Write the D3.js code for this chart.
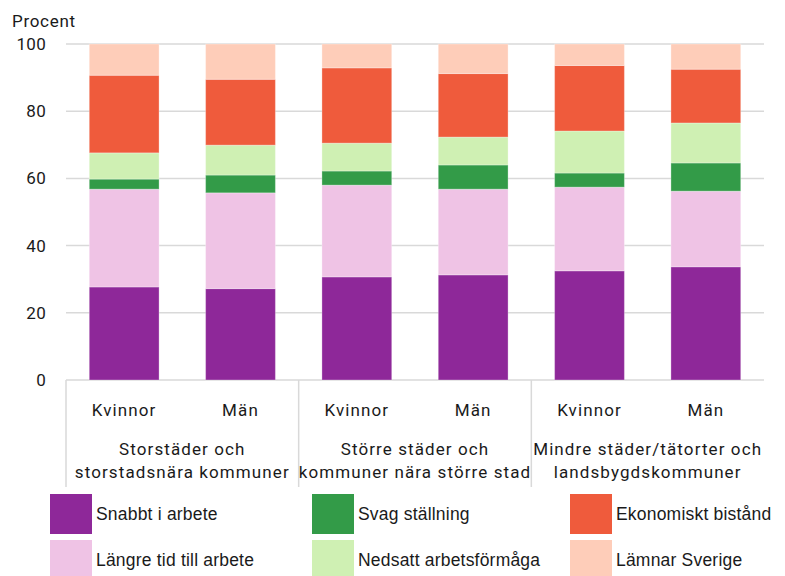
<!DOCTYPE html>
<html><head><meta charset="utf-8">
<script src="https://cdn.jsdelivr.net/npm/d3@7"></script>
<style>body{margin:0;background:#fff}svg{display:block}</style>
</head><body>
<svg id="c" width="785" height="576"></svg>
<script>
const groups = [["Storstäder och","storstadsnära kommuner"],["Större städer och","kommuner nära större stad"],["Mindre städer/tätorter och","landsbygdskommuner"]];
const genders = ["Kvinnor","Män"];
const seriesNames = ["Snabbt i arbete","Längre tid till arbete","Svag ställning","Nedsatt arbetsförmåga","Ekonomiskt bistånd","Lämnar Sverige"];
const colors = ["#8e2899","#efc3e5","#339b48","#cff0b3","#ef5b3c","#fecdb9"];
// values per bar, order: Stor K, Stor M, Större K, Större M, Mindre K, Mindre M
const snabbt   = [27.7, 27.2, 30.7, 31.3, 32.5, 33.7];
const langre   = [29.1, 28.5, 27.3, 25.5, 24.9, 22.5];
const svag     = [3.0, 5.3, 4.2, 7.2, 4.2, 8.4];
const nedsatt  = [7.8, 8.9, 8.3, 8.3, 12.5, 11.9];
const ekonom   = [23.1, 19.6, 22.4, 18.9, 19.5, 16.0];
const lamnar   = [9.3, 10.5, 7.1, 8.8, 6.4, 7.5];
const yTicks = [0,20,40,60,80,100];

const seriesVals = [snabbt, langre, svag, nedsatt, ekonom, lamnar];
const bars = d3.range(6).map(i => {
  const o = {id:i};
  seriesNames.forEach((s,k)=> o[s]=seriesVals[k][i]);
  return o;
});
const stack = d3.stack().keys(seriesNames)(bars);

const svg = d3.select("#c");
const L=66, R=764, T=44, B=380;
const x = d3.scaleBand().domain(d3.range(6)).range([L,R]).paddingInner(0.4).paddingOuter(0.2);
const y = d3.scaleLinear().domain([0,100]).range([B,T]);
const axisFont = "Roboto, 'Noto Sans', sans-serif";
const txt = "#1a1a1a";

// gridlines
svg.append("g").selectAll("line").data(yTicks).join("line")
  .attr("x1",L).attr("x2",R).attr("y1",d=>y(d)).attr("y2",d=>y(d))
  .attr("stroke","#d9d9d9").attr("stroke-width",1.5);

// y labels
svg.append("g").selectAll("text").data(yTicks).join("text")
  .attr("x",46).attr("y",d=>y(d)+6).attr("text-anchor","end")
  .attr("font-family",axisFont).attr("font-size",17).attr("letter-spacing",0.3).attr("fill",txt).text(d=>d);
svg.append("text").attr("x",12).attr("y",27).attr("font-family",axisFont)
  .attr("font-size",17).attr("letter-spacing",0.7).attr("fill",txt).text("Procent");

// bars
svg.append("g").selectAll("g").data(stack).join("g")
  .attr("fill",(d,i)=>colors[i])
  .selectAll("rect").data(d=>d).join("rect")
  .attr("x",d=>x(d.data.id)).attr("width",x.bandwidth())
  .attr("y",d=>y(d[1])).attr("height",d=>y(d[0])-y(d[1]))
  .attr("stroke","rgba(255,255,255,0.3)").attr("stroke-width",1);

// separators
const step = x.step();
const seps = [0,2,4].map(i => x(i) - step*x.paddingInner()/2 - (i===0 ? step*(x.paddingOuter()-x.paddingInner()/2) : 0));
svg.append("g").selectAll("line").data(seps).join("line")
  .attr("x1",d=>d).attr("x2",d=>d).attr("y1",B).attr("y2",487)
  .attr("stroke","#d9d9d9").attr("stroke-width",1.5);

// category labels
svg.append("g").selectAll("text").data(d3.range(6)).join("text")
  .attr("x",i=>x(i)+x.bandwidth()/2).attr("y",416).attr("text-anchor","middle")
  .attr("font-family",axisFont).attr("font-size",17).attr("letter-spacing",1.1).attr("fill",txt)
  .text(i=>genders[i%2]);
groups.forEach((g,gi)=>{
  const cx = (x(gi*2) + x(gi*2+1) + x.bandwidth())/2;
  g.forEach((line,li)=>{
    svg.append("text").attr("x",cx).attr("y",455+li*23).attr("text-anchor","middle")
      .attr("font-family",axisFont).attr("font-size",17).attr("letter-spacing",1.1).attr("fill",txt).text(line);
  });
});

// legend
const legCols = [50, 312, 570];
const legend = svg.append("g");
seriesNames.forEach((s,i)=>{
  const col = Math.floor(i/2), row = i%2;
  const lx = legCols[col], ly = 494 + row*46;
  legend.append("rect").attr("x",lx).attr("y",ly).attr("width",42).attr("height",40).attr("fill",colors[i]);
  legend.append("text").attr("x",lx+46).attr("y",ly+26)
    .attr("font-family","'Liberation Sans', Arial, sans-serif").attr("font-size",17.5).attr("letter-spacing",0.2)
    .attr("fill",txt).text(s);
});
</script>
</body></html>
